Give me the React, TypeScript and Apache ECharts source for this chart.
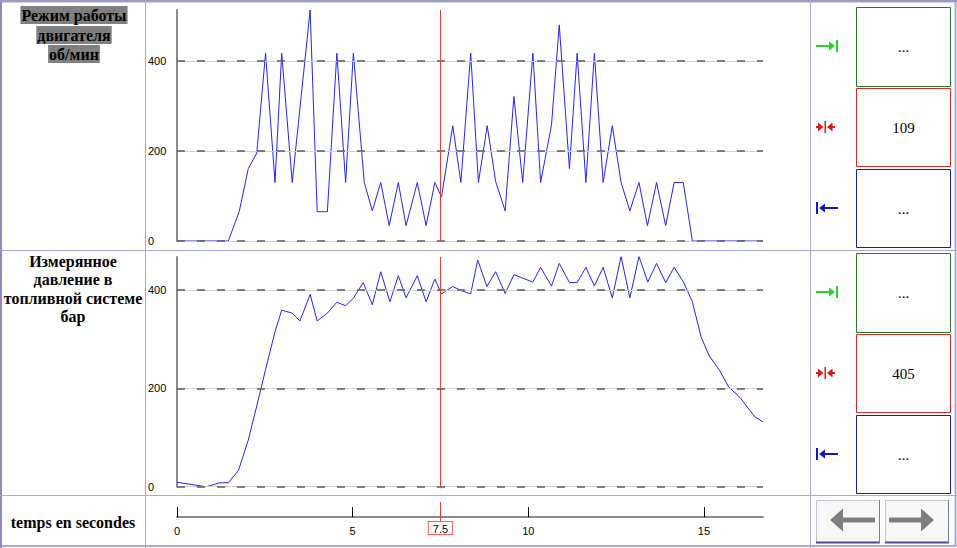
import React, { useEffect, useRef } from 'react';
import * as echarts from 'echarts';

// ---- data ----
const rpmTimes = [0, 1.46, 1.77, 2.03, 2.27, 2.52, 2.79, 2.98, 3.28, 3.79, 3.99, 4.28, 4.55, 4.80, 5.02, 5.33, 5.56, 5.80, 6.04, 6.30, 6.52, 6.84, 7.09, 7.34, 7.53, 7.85, 8.08, 8.36, 8.58, 8.83, 9.07, 9.34, 9.59, 9.84, 10.13, 10.35, 10.66, 10.88, 11.17, 11.39, 11.64, 11.88, 12.13, 12.39, 12.64, 12.89, 13.15, 13.39, 13.65, 13.91, 14.15, 14.41, 14.67, 16.68];
const rpmValues = [0, 0, 65, 161, 195, 417, 130, 417, 130, 513, 65, 65, 417, 130, 417, 130, 67, 130, 34, 130, 34, 130, 34, 130, 98, 256, 130, 417, 130, 256, 132, 67, 321, 130, 417, 130, 258, 480, 161, 417, 130, 417, 130, 256, 130, 67, 130, 34, 130, 34, 130, 130, 0, 0];

const pressureTimes = [0, 0.83, 1.22, 1.46, 1.75, 2.03, 2.27, 2.52, 2.79, 2.98, 3.27, 3.50, 3.79, 3.99, 4.28, 4.55, 4.80, 5.02, 5.30, 5.56, 5.80, 6.06, 6.30, 6.52, 6.84, 7.09, 7.34, 7.53, 7.85, 8.08, 8.36, 8.56, 8.82, 9.07, 9.34, 9.59, 10.13, 10.35, 10.66, 10.88, 11.17, 11.39, 11.64, 11.88, 12.13, 12.39, 12.64, 12.89, 13.15, 13.40, 13.65, 13.91, 14.15, 14.41, 14.67, 14.92, 15.15, 15.44, 15.70, 16.03, 16.22, 16.45, 16.68];
const pressureValues = [9, 0, 8, 8, 33, 95, 164, 238, 315, 359, 353, 337, 391, 337, 353, 375, 368, 383, 415, 370, 437, 376, 429, 384, 429, 376, 422, 392, 407, 399, 392, 461, 407, 437, 393, 431, 416, 446, 408, 454, 415, 415, 446, 408, 446, 384, 468, 384, 468, 416, 454, 415, 446, 417, 376, 304, 266, 237, 203, 181, 163, 142, 132];

const timeTicks = [0, 5, 10, 15];
const rpmTicks = [0, 200, 400];
const pressureTicks = [0, 200, 400];
const gridValues = [0, 200, 400];
const timeMax = 16.68;
const rpmMax = 513;
const pressureMax = 467;
const cursorTime = 7.5;
const cursorReadings = ['109', '405'];
const rpmLabelLines = ['Режим работы', 'двигателя', 'об/мин'];
const pressureLabelLines = ['Измерянное', 'давление в', 'топливной системе', 'бар'];
const timeAxisTitle = 'temps en secondes';

const BLUE_LINE = '#2323ee';
const FRAME = '#a9a9d2';
const SERIF = 'Liberation Serif';
const SANS = 'Liberation Sans';

function pairs(t: number[], v: number[]) {
  return t.map((x, i) => [x, v[i]]);
}

function gridMarkLine() {
  const data: any[] = [];
  gridValues.forEach((v) => {
    data.push({ yAxis: v, lineStyle: { color: '#d2d2d2', width: 1, type: 'solid' } });
  });
  gridValues.forEach((v) => {
    data.push({ yAxis: v, lineStyle: { color: '#5a5a5a', width: 1.5, type: [8, 12] } });
  });
  return { silent: true, symbol: ['none', 'none'], label: { show: false }, data };
}

function cursorMarkLine(withLabel: boolean) {
  return {
    silent: true,
    symbol: ['none', 'none'],
    lineStyle: { color: '#ee3a3a', width: 1, type: 'solid' },
    label: withLabel
      ? {
          show: true,
          position: 'start',
          distance: 1,
          formatter: String(cursorTime),
          color: '#000',
          fontFamily: SANS,
          fontSize: 11,
          backgroundColor: '#fff',
          borderColor: '#ff5a5a',
          borderWidth: 1,
          padding: [1, 4, 0, 4],
        }
      : { show: false },
    data: [{ xAxis: cursorTime }],
  };
}

function icons(base: number): any[] {
  const green = '#2ad02a';
  const red = '#dd1a1a';
  const blue = '#1414c4';
  const g = base + 46;
  const r = base + 127;
  const b = base + 208;
  return [
    { type: 'line', shape: { x1: 816, y1: g, x2: 831, y2: g }, style: { stroke: green, lineWidth: 2 } },
    { type: 'polygon', shape: { points: [[829, g - 4.5], [835, g], [829, g + 4.5]] }, style: { fill: green } },
    { type: 'rect', shape: { x: 836, y: g - 6, width: 2, height: 12 }, style: { fill: green } },

    { type: 'line', shape: { x1: 816, y1: r, x2: 819, y2: r }, style: { stroke: red, lineWidth: 2 } },
    { type: 'polygon', shape: { points: [[818, r - 4.5], [823.5, r], [818, r + 4.5]] }, style: { fill: red } },
    { type: 'rect', shape: { x: 824.5, y: r - 6, width: 1.5, height: 12 }, style: { fill: red } },
    { type: 'polygon', shape: { points: [[832.5, r - 4.5], [827, r], [832.5, r + 4.5]] }, style: { fill: red } },
    { type: 'line', shape: { x1: 832, y1: r, x2: 835, y2: r }, style: { stroke: red, lineWidth: 2 } },

    { type: 'rect', shape: { x: 816, y: b - 6, width: 2, height: 12 }, style: { fill: blue } },
    { type: 'polygon', shape: { points: [[825, b - 4.5], [819, b], [825, b + 4.5]] }, style: { fill: blue } },
    { type: 'line', shape: { x1: 823, y1: b, x2: 838, y2: b }, style: { stroke: blue, lineWidth: 2 } },
  ];
}

function textEl(x: number, y: number, text: string, font: string, extra: any = {}) {
  return {
    type: 'text',
    x,
    y,
    style: { text, font, fill: '#000', align: 'center', verticalAlign: 'middle', ...extra },
  };
}

function boxes(base: number, reading: string): any[] {
  const defs = [
    { y: base + 7, h: 79, color: '#2a7a2a', text: '...' },
    { y: base + 88, h: 78, color: '#d42a2a', text: reading },
    { y: base + 169, h: 78, color: '#1c1ca0', text: '...' },
  ];
  const out: any[] = [];
  defs.forEach((d) => {
    out.push({ type: 'rect', shape: { x: 856.5, y: d.y + 0.5, width: 94, height: d.h }, style: { fill: '#fff', stroke: d.color, lineWidth: 1 } });
    out.push(textEl(903.5, d.y + d.h / 2 + 0.5, d.text, '15px ' + SERIF));
  });
  return out;
}

function buildGraphics(): any[] {
  const els: any[] = [];
  // frame
  els.push({ type: 'rect', shape: { x: 1, y: 1.5, width: 954.5, height: 544.5 }, style: { fill: 'none', stroke: FRAME, lineWidth: 2 } });
  els.push({ type: 'line', shape: { x1: 1, y1: 0, x2: 1, y2: 548 }, style: { stroke: '#8c8cbc', lineWidth: 2 } });
  els.push({ type: 'line', shape: { x1: 0, y1: 1, x2: 957, y2: 1 }, style: { stroke: '#9a9ac2', lineWidth: 2 } });
  els.push({ type: 'line', shape: { x1: 145.5, y1: 0, x2: 145.5, y2: 548 }, style: { stroke: FRAME, lineWidth: 1 } });
  els.push({ type: 'line', shape: { x1: 810.5, y1: 0, x2: 810.5, y2: 548 }, style: { stroke: FRAME, lineWidth: 1 } });
  els.push({ type: 'line', shape: { x1: 0, y1: 250.5, x2: 957, y2: 250.5 }, style: { stroke: FRAME, lineWidth: 1 } });
  els.push({ type: 'line', shape: { x1: 0, y1: 495.5, x2: 957, y2: 495.5 }, style: { stroke: FRAME, lineWidth: 1 } });

  // left labels
  const rpmY = [15, 35, 54];
  rpmLabelLines.forEach((t, i) => {
    els.push(textEl(74, rpmY[i], t, 'bold 16px ' + SERIF, { backgroundColor: '#808080', padding: [1, 1, 1, 1] }));
  });
  const prY = [261, 279.5, 298, 316];
  pressureLabelLines.forEach((t, i) => {
    els.push(textEl(73, prY[i], t, 'bold 16px ' + SERIF));
  });
  els.push(textEl(73, 522, timeAxisTitle, 'bold 16px ' + SERIF));

  // right panel
  els.push(...icons(0), ...icons(246));
  els.push(...boxes(0, cursorReadings[0]), ...boxes(246, cursorReadings[1]));

  // buttons
  [816, 885].forEach((bx) => {
    els.push({ type: 'rect', shape: { x: bx + 0.5, y: 500.5, width: 63, height: 42 }, style: { fill: '#f7f7f7', stroke: '#c4c4d0', lineWidth: 1 } });
    els.push({ type: 'line', shape: { x1: bx, y1: 542.5, x2: bx + 64, y2: 542.5 }, style: { stroke: '#4c4c88', lineWidth: 2 } });
    els.push({ type: 'line', shape: { x1: bx + 63.5, y1: 500, x2: bx + 63.5, y2: 543 }, style: { stroke: '#7a7aa0', lineWidth: 1 } });
  });
  const ac = '#7e7e7e';
  els.push({
    type: 'polygon',
    shape: { points: [[830, 520], [843, 508.5], [843, 517.5], [875, 517.5], [875, 522.5], [843, 522.5], [843, 531.5]] },
    style: { fill: ac },
  });
  els.push({
    type: 'polygon',
    shape: { points: [[889, 517.5], [921, 517.5], [921, 508.5], [934, 520], [921, 531.5], [921, 522.5], [889, 522.5]] },
    style: { fill: ac },
  });
  return els.map((e) => ({ silent: true, ...e }));
}

function valueYAxis(gridIndex: number, max: number, ticks: number[]) {
  return {
    gridIndex,
    type: 'value',
    min: 0,
    max,
    axisLine: { show: true, lineStyle: { color: '#8a8a8a', width: 2 } },
    axisTick: { show: false },
    splitLine: { show: false },
    axisLabel: { customValues: ticks, align: 'left', margin: 29, fontSize: 11, fontFamily: SANS, color: '#000' },
  };
}

const option: any = {
  animation: false,
  backgroundColor: '#fff',
  grid: [
    { left: 177, top: 10, width: 586, height: 231 },
    { left: 177, top: 257, width: 586, height: 229.7 },
    { left: 177, top: 502, width: 586, height: 19 },
  ],
  xAxis: [
    { gridIndex: 0, type: 'value', min: 0, max: timeMax, show: false },
    { gridIndex: 1, type: 'value', min: 0, max: timeMax, show: false },
    {
      gridIndex: 2,
      type: 'value',
      min: 0,
      max: timeMax,
      axisLine: { onZero: true, lineStyle: { color: '#8a8a8a', width: 2 } },
      axisTick: { inside: true, length: 10, customValues: timeTicks, lineStyle: { color: '#000', width: 1 } },
      axisLabel: { customValues: timeTicks, fontSize: 11, fontFamily: SANS, color: '#000', margin: 4 },
      splitLine: { show: false },
    },
  ],
  yAxis: [
    valueYAxis(0, rpmMax, rpmTicks),
    valueYAxis(1, pressureMax, pressureTicks),
    { gridIndex: 2, type: 'value', min: -4, max: 15, show: false },
  ],
  series: [
    { type: 'line', xAxisIndex: 0, yAxisIndex: 0, data: [], z: 1, markLine: gridMarkLine() },
    { type: 'line', xAxisIndex: 1, yAxisIndex: 1, data: [], z: 1, markLine: gridMarkLine() },
    {
      type: 'line', xAxisIndex: 0, yAxisIndex: 0, z: 2, showSymbol: false, silent: true,
      data: pairs(rpmTimes, rpmValues),
      lineStyle: { color: BLUE_LINE, width: 1 },
      markLine: cursorMarkLine(false),
    },
    {
      type: 'line', xAxisIndex: 1, yAxisIndex: 1, z: 2, showSymbol: false, silent: true,
      data: pairs(pressureTimes, pressureValues),
      lineStyle: { color: BLUE_LINE, width: 1 },
      markLine: cursorMarkLine(false),
    },
    { type: 'line', xAxisIndex: 2, yAxisIndex: 2, data: [], z: 3, markLine: cursorMarkLine(true) },
  ],
  graphic: buildGraphics(),
};

export default function App() {
  const ref = useRef<HTMLDivElement>(null);
  useEffect(() => {
    const chart = echarts.init(ref.current as HTMLDivElement, null, { renderer: 'svg' });
    chart.setOption(option);
    return () => chart.dispose();
  }, []);
  return (
    <div
      ref={ref}
      style={{ position: 'absolute', left: 0, top: 0, width: 957, height: 548, background: '#fff' }}
    />
  );
}
